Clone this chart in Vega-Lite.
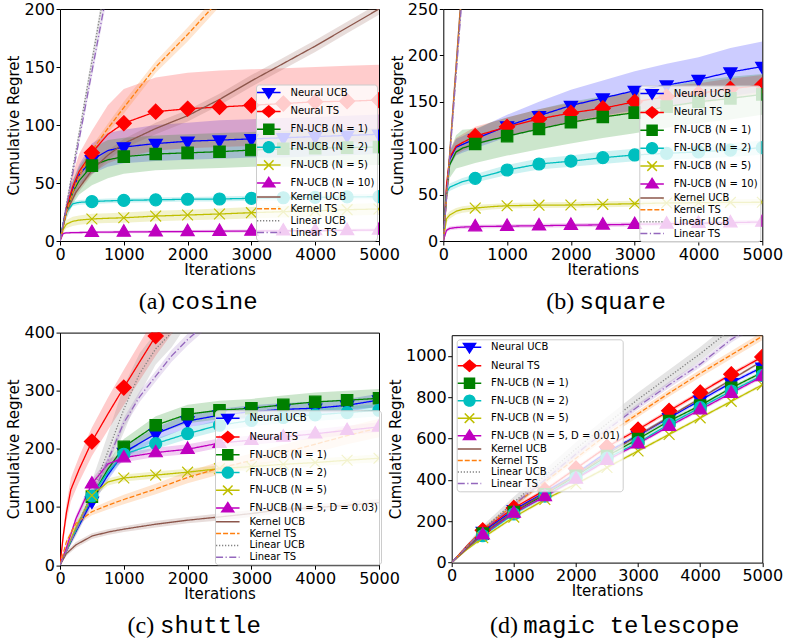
{
"$schema": "https://vega.github.io/schema/vega-lite/v6.json",
"background": "white",
"padding": {"left": 6, "top": 0, "right": 0, "bottom": 0},
"autosize": {"type": "pad"},
"config": {
  "view": {"stroke": "#000", "strokeWidth": 1},
  "axis": {"domain": false, "grid": false, "tickColor": "#000", "tickSize": 4, "tickWidth": 1, "labelFont": "DejaVu Sans", "labelFontSize": 16, "labelColor": "#000", "titleFont": "DejaVu Sans", "titleFontSize": 15, "titleFontWeight": "normal", "titleColor": "#000", "labelFlush": false, "labelOverlap": false, "labelBound": false, "format": "d"},
  "axisX": {"labelPadding": 1, "titlePadding": 0},
  "axisY": {"labelPadding": 1.5, "titlePadding": 2},
  "legend": {"columns": 1, "direction": "vertical", "fillColor": "rgba(255,255,255,0.8)", "strokeColor": "#cccccc", "cornerRadius": 3, "padding": 2, "labelFont": "DejaVu Sans", "labelFontSize": 10, "labelColor": "#000", "labelOffset": 15.6, "symbolOffset": 4.8, "symbolSize": 100, "symbolStrokeWidth": 1.5, "symbolOpacity": 1, "symbolLimit": 20, "rowPadding": 0.9}
},
"datasets": {
"a": [
{"s":"Neural UCB","x":0,"y":0,"l":0,"h":0},{"s":"Neural UCB","x":50,"y":15,"l":12,"h":18},{"s":"Neural UCB","x":100,"y":28,"l":23,"h":33},{"s":"Neural UCB","x":200,"y":45,"l":38,"h":52},{"s":"Neural UCB","x":300,"y":57,"l":48,"h":66},{"s":"Neural UCB","x":500,"y":70,"l":58,"h":84},{"s":"Neural UCB","x":750,"y":78,"l":64,"h":93},{"s":"Neural UCB","x":1000,"y":81,"l":67,"h":96},{"s":"Neural UCB","x":1500,"y":84,"l":69,"h":100},{"s":"Neural UCB","x":2000,"y":86,"l":70,"h":102},{"s":"Neural UCB","x":2500,"y":87,"l":71,"h":104},{"s":"Neural UCB","x":3000,"y":88,"l":72,"h":105},{"s":"Neural UCB","x":3500,"y":89,"l":72,"h":106},{"s":"Neural UCB","x":4000,"y":90,"l":73,"h":107},{"s":"Neural UCB","x":4500,"y":91,"l":74,"h":108},{"s":"Neural UCB","x":5000,"y":92,"l":75,"h":109},
{"s":"Neural TS","x":0,"y":0,"l":0,"h":0},{"s":"Neural TS","x":50,"y":14,"l":11,"h":17},{"s":"Neural TS","x":100,"y":28,"l":22,"h":34},{"s":"Neural TS","x":200,"y":47,"l":36,"h":58},{"s":"Neural TS","x":300,"y":60,"l":45,"h":75},{"s":"Neural TS","x":500,"y":76,"l":58,"h":95},{"s":"Neural TS","x":750,"y":92,"l":67,"h":117},{"s":"Neural TS","x":1000,"y":101.5,"l":72,"h":131},{"s":"Neural TS","x":1500,"y":111.5,"l":78,"h":141},{"s":"Neural TS","x":2000,"y":114,"l":80,"h":145},{"s":"Neural TS","x":2500,"y":115.5,"l":81,"h":147},{"s":"Neural TS","x":3000,"y":117,"l":82,"h":148},{"s":"Neural TS","x":3500,"y":118.5,"l":83,"h":149},{"s":"Neural TS","x":4000,"y":120,"l":84,"h":150},{"s":"Neural TS","x":4500,"y":120.5,"l":85,"h":151},{"s":"Neural TS","x":5000,"y":121.5,"l":86,"h":152},
{"s":"FN-UCB (N = 1)","x":0,"y":0,"l":0,"h":0},{"s":"FN-UCB (N = 1)","x":50,"y":13,"l":10,"h":16},{"s":"FN-UCB (N = 1)","x":100,"y":25,"l":19,"h":31},{"s":"FN-UCB (N = 1)","x":200,"y":42,"l":32,"h":52},{"s":"FN-UCB (N = 1)","x":300,"y":52,"l":40,"h":64},{"s":"FN-UCB (N = 1)","x":500,"y":65,"l":48,"h":80},{"s":"FN-UCB (N = 1)","x":750,"y":70,"l":54,"h":87},{"s":"FN-UCB (N = 1)","x":1000,"y":72.7,"l":58,"h":89},{"s":"FN-UCB (N = 1)","x":1500,"y":75,"l":61,"h":91},{"s":"FN-UCB (N = 1)","x":2000,"y":76,"l":62,"h":92},{"s":"FN-UCB (N = 1)","x":2500,"y":77,"l":63,"h":93},{"s":"FN-UCB (N = 1)","x":3000,"y":78.4,"l":64,"h":94},{"s":"FN-UCB (N = 1)","x":3500,"y":79.5,"l":64,"h":95},{"s":"FN-UCB (N = 1)","x":4000,"y":80,"l":64.5,"h":96},{"s":"FN-UCB (N = 1)","x":4500,"y":80.5,"l":65,"h":96.5},{"s":"FN-UCB (N = 1)","x":5000,"y":81,"l":65.5,"h":97},
{"s":"FN-UCB (N = 2)","x":0,"y":0,"l":0,"h":0},{"s":"FN-UCB (N = 2)","x":50,"y":15,"l":13,"h":17},{"s":"FN-UCB (N = 2)","x":100,"y":25,"l":23,"h":27},{"s":"FN-UCB (N = 2)","x":200,"y":32,"l":30,"h":34},{"s":"FN-UCB (N = 2)","x":300,"y":33.3,"l":31.3,"h":35.3},{"s":"FN-UCB (N = 2)","x":500,"y":34,"l":32,"h":36},{"s":"FN-UCB (N = 2)","x":750,"y":34.6,"l":32.5,"h":36.7},{"s":"FN-UCB (N = 2)","x":1000,"y":35,"l":33,"h":37},{"s":"FN-UCB (N = 2)","x":1500,"y":35.5,"l":33.5,"h":37.5},{"s":"FN-UCB (N = 2)","x":2000,"y":36,"l":34,"h":38},{"s":"FN-UCB (N = 2)","x":2500,"y":36.2,"l":34,"h":38.4},{"s":"FN-UCB (N = 2)","x":3000,"y":36.8,"l":34.6,"h":39},{"s":"FN-UCB (N = 2)","x":3500,"y":37.3,"l":35,"h":39.6},{"s":"FN-UCB (N = 2)","x":4000,"y":37.6,"l":35.3,"h":39.9},{"s":"FN-UCB (N = 2)","x":4500,"y":38,"l":35.7,"h":40.3},{"s":"FN-UCB (N = 2)","x":5000,"y":38.2,"l":35.9,"h":40.5},
{"s":"FN-UCB (N = 5)","x":0,"y":0,"l":0,"h":0},{"s":"FN-UCB (N = 5)","x":50,"y":10,"l":7,"h":13},{"s":"FN-UCB (N = 5)","x":100,"y":14.5,"l":11,"h":18},{"s":"FN-UCB (N = 5)","x":200,"y":17,"l":13,"h":21},{"s":"FN-UCB (N = 5)","x":300,"y":18,"l":14,"h":22},{"s":"FN-UCB (N = 5)","x":500,"y":19,"l":15,"h":23.5},{"s":"FN-UCB (N = 5)","x":750,"y":19.6,"l":15.5,"h":24},{"s":"FN-UCB (N = 5)","x":1000,"y":20,"l":15.8,"h":24.5},{"s":"FN-UCB (N = 5)","x":1500,"y":21.5,"l":17,"h":26},{"s":"FN-UCB (N = 5)","x":2000,"y":22.4,"l":17.8,"h":27},{"s":"FN-UCB (N = 5)","x":2500,"y":23.3,"l":18.5,"h":28},{"s":"FN-UCB (N = 5)","x":3000,"y":24.4,"l":19.5,"h":29.3},{"s":"FN-UCB (N = 5)","x":3500,"y":25.3,"l":20.3,"h":30.3},{"s":"FN-UCB (N = 5)","x":4000,"y":26,"l":21,"h":31},{"s":"FN-UCB (N = 5)","x":4500,"y":27,"l":22,"h":32},{"s":"FN-UCB (N = 5)","x":5000,"y":27.6,"l":22.5,"h":32.7},
{"s":"FN-UCB (N = 10)","x":0,"y":0,"l":0,"h":0},{"s":"FN-UCB (N = 10)","x":50,"y":6.5,"l":5.5,"h":7.5},{"s":"FN-UCB (N = 10)","x":100,"y":7,"l":6,"h":8},{"s":"FN-UCB (N = 10)","x":200,"y":7.2,"l":6.2,"h":8.2},{"s":"FN-UCB (N = 10)","x":300,"y":7.3,"l":6.3,"h":8.4},{"s":"FN-UCB (N = 10)","x":500,"y":7.5,"l":6.4,"h":8.6},{"s":"FN-UCB (N = 10)","x":750,"y":7.7,"l":6.5,"h":8.9},{"s":"FN-UCB (N = 10)","x":1000,"y":7.8,"l":6.6,"h":9},{"s":"FN-UCB (N = 10)","x":1500,"y":8,"l":6.8,"h":9.2},{"s":"FN-UCB (N = 10)","x":2000,"y":8.2,"l":7,"h":9.4},{"s":"FN-UCB (N = 10)","x":2500,"y":8.4,"l":7.2,"h":9.7},{"s":"FN-UCB (N = 10)","x":3000,"y":8.6,"l":7.3,"h":9.9},{"s":"FN-UCB (N = 10)","x":3500,"y":8.8,"l":7.5,"h":10.1},{"s":"FN-UCB (N = 10)","x":4000,"y":9,"l":7.7,"h":10.3},{"s":"FN-UCB (N = 10)","x":4500,"y":9.2,"l":7.9,"h":10.6},{"s":"FN-UCB (N = 10)","x":5000,"y":9.5,"l":8.1,"h":10.9},
{"s":"Kernel UCB","x":0,"y":0,"l":0,"h":0},{"s":"Kernel UCB","x":100,"y":25,"l":23,"h":27},{"s":"Kernel UCB","x":250,"y":42,"l":39,"h":45},{"s":"Kernel UCB","x":500,"y":61,"l":57,"h":65},{"s":"Kernel UCB","x":750,"y":74,"l":70,"h":78},{"s":"Kernel UCB","x":1000,"y":84,"l":80,"h":88},{"s":"Kernel UCB","x":1500,"y":97,"l":92,"h":102},{"s":"Kernel UCB","x":2000,"y":108,"l":103,"h":113},{"s":"Kernel UCB","x":2500,"y":122,"l":117,"h":127},{"s":"Kernel UCB","x":3000,"y":138,"l":133,"h":143},{"s":"Kernel UCB","x":3500,"y":153,"l":148,"h":158},{"s":"Kernel UCB","x":4000,"y":168,"l":163,"h":173},{"s":"Kernel UCB","x":4500,"y":184,"l":179,"h":189},{"s":"Kernel UCB","x":5000,"y":200,"l":195,"h":205},
{"s":"Kernel TS","x":0,"y":0,"l":0,"h":0},{"s":"Kernel TS","x":100,"y":25,"l":23,"h":27},{"s":"Kernel TS","x":250,"y":50,"l":47,"h":53},{"s":"Kernel TS","x":500,"y":78,"l":74,"h":82},{"s":"Kernel TS","x":750,"y":97,"l":93,"h":101},{"s":"Kernel TS","x":1000,"y":115,"l":110,"h":120},{"s":"Kernel TS","x":1500,"y":150,"l":145,"h":155},{"s":"Kernel TS","x":2000,"y":178,"l":172,"h":184},{"s":"Kernel TS","x":2500,"y":208,"l":202,"h":214},{"s":"Kernel TS","x":3000,"y":240,"l":234,"h":246},
{"s":"Linear UCB","x":0,"y":0,"l":0,"h":0},{"s":"Linear UCB","x":100,"y":31,"l":29,"h":33},{"s":"Linear UCB","x":500,"y":155,"l":150,"h":160},{"s":"Linear UCB","x":1000,"y":310,"l":302,"h":318},
{"s":"Linear TS","x":0,"y":0,"l":0,"h":0},{"s":"Linear TS","x":100,"y":29,"l":27,"h":31},{"s":"Linear TS","x":500,"y":146,"l":141,"h":151},{"s":"Linear TS","x":1000,"y":292,"l":284,"h":300}
],
"b": [
{"s":"Neural UCB","x":0,"y":0,"l":0,"h":0},{"s":"Neural UCB","x":50,"y":55,"l":50,"h":60},{"s":"Neural UCB","x":100,"y":88,"l":80,"h":96},{"s":"Neural UCB","x":200,"y":101,"l":92,"h":110},{"s":"Neural UCB","x":300,"y":104,"l":95,"h":113},{"s":"Neural UCB","x":500,"y":110,"l":100,"h":120},{"s":"Neural UCB","x":750,"y":117,"l":106,"h":128},{"s":"Neural UCB","x":1000,"y":124,"l":112,"h":136},{"s":"Neural UCB","x":1500,"y":135,"l":120,"h":150},{"s":"Neural UCB","x":2000,"y":146,"l":129,"h":163},{"s":"Neural UCB","x":2500,"y":154,"l":135,"h":173},{"s":"Neural UCB","x":3000,"y":162,"l":141,"h":183},{"s":"Neural UCB","x":3500,"y":168,"l":145,"h":191},{"s":"Neural UCB","x":4000,"y":174,"l":150,"h":198},{"s":"Neural UCB","x":4500,"y":182,"l":156,"h":208},{"s":"Neural UCB","x":5000,"y":188,"l":161,"h":215},
{"s":"Neural TS","x":0,"y":0,"l":0,"h":0},{"s":"Neural TS","x":50,"y":60,"l":55,"h":65},{"s":"Neural TS","x":100,"y":90,"l":82,"h":98},{"s":"Neural TS","x":200,"y":102,"l":93,"h":111},{"s":"Neural TS","x":300,"y":106,"l":97,"h":115},{"s":"Neural TS","x":500,"y":113,"l":103,"h":123},{"s":"Neural TS","x":750,"y":118,"l":108,"h":128},{"s":"Neural TS","x":1000,"y":123,"l":113,"h":133},{"s":"Neural TS","x":1500,"y":131.5,"l":121,"h":142},{"s":"Neural TS","x":2000,"y":138,"l":127,"h":149},{"s":"Neural TS","x":2500,"y":143,"l":132,"h":154},{"s":"Neural TS","x":3000,"y":150,"l":139,"h":161},{"s":"Neural TS","x":3500,"y":155.5,"l":144,"h":167},{"s":"Neural TS","x":4000,"y":159,"l":148,"h":170},{"s":"Neural TS","x":4500,"y":164,"l":153,"h":175},{"s":"Neural TS","x":5000,"y":168,"l":157,"h":179},
{"s":"FN-UCB (N = 1)","x":0,"y":0,"l":0,"h":0},{"s":"FN-UCB (N = 1)","x":50,"y":50,"l":42,"h":58},{"s":"FN-UCB (N = 1)","x":100,"y":82,"l":68,"h":96},{"s":"FN-UCB (N = 1)","x":200,"y":96,"l":78,"h":114},{"s":"FN-UCB (N = 1)","x":300,"y":100,"l":80,"h":120},{"s":"FN-UCB (N = 1)","x":500,"y":104.5,"l":84,"h":121},{"s":"FN-UCB (N = 1)","x":750,"y":109,"l":88,"h":128},{"s":"FN-UCB (N = 1)","x":1000,"y":113,"l":92,"h":133},{"s":"FN-UCB (N = 1)","x":1500,"y":120.7,"l":99,"h":142},{"s":"FN-UCB (N = 1)","x":2000,"y":128,"l":105,"h":150},{"s":"FN-UCB (N = 1)","x":2500,"y":133.6,"l":111,"h":156},{"s":"FN-UCB (N = 1)","x":3000,"y":138.3,"l":116,"h":161},{"s":"FN-UCB (N = 1)","x":3500,"y":144.8,"l":122,"h":167},{"s":"FN-UCB (N = 1)","x":4000,"y":150,"l":127,"h":173},{"s":"FN-UCB (N = 1)","x":4500,"y":153.7,"l":131,"h":177},{"s":"FN-UCB (N = 1)","x":5000,"y":158,"l":136,"h":180},
{"s":"FN-UCB (N = 2)","x":0,"y":0,"l":0,"h":0},{"s":"FN-UCB (N = 2)","x":50,"y":52,"l":48,"h":56},{"s":"FN-UCB (N = 2)","x":100,"y":58,"l":54,"h":62},{"s":"FN-UCB (N = 2)","x":200,"y":61,"l":57,"h":65},{"s":"FN-UCB (N = 2)","x":300,"y":64,"l":60,"h":68},{"s":"FN-UCB (N = 2)","x":500,"y":67.5,"l":63,"h":72},{"s":"FN-UCB (N = 2)","x":750,"y":72,"l":67,"h":77},{"s":"FN-UCB (N = 2)","x":1000,"y":76.5,"l":71,"h":82},{"s":"FN-UCB (N = 2)","x":1500,"y":83,"l":77,"h":89},{"s":"FN-UCB (N = 2)","x":2000,"y":86,"l":80,"h":92},{"s":"FN-UCB (N = 2)","x":2500,"y":89.8,"l":83,"h":96.5},{"s":"FN-UCB (N = 2)","x":3000,"y":92.7,"l":86,"h":99.5},{"s":"FN-UCB (N = 2)","x":3500,"y":94.5,"l":87.5,"h":101.5},{"s":"FN-UCB (N = 2)","x":4000,"y":96,"l":89,"h":103},{"s":"FN-UCB (N = 2)","x":4500,"y":98,"l":90.5,"h":105.5},{"s":"FN-UCB (N = 2)","x":5000,"y":100.6,"l":93,"h":108},
{"s":"FN-UCB (N = 5)","x":0,"y":0,"l":0,"h":0},{"s":"FN-UCB (N = 5)","x":50,"y":24,"l":20,"h":28},{"s":"FN-UCB (N = 5)","x":100,"y":28,"l":24,"h":32},{"s":"FN-UCB (N = 5)","x":200,"y":32,"l":28.5,"h":35.5},{"s":"FN-UCB (N = 5)","x":300,"y":34,"l":30.5,"h":37.5},{"s":"FN-UCB (N = 5)","x":500,"y":35.5,"l":32,"h":39},{"s":"FN-UCB (N = 5)","x":750,"y":37,"l":34,"h":40},{"s":"FN-UCB (N = 5)","x":1000,"y":38,"l":35,"h":41},{"s":"FN-UCB (N = 5)","x":1500,"y":38.6,"l":35.5,"h":41.7},{"s":"FN-UCB (N = 5)","x":2000,"y":38.8,"l":35.7,"h":42},{"s":"FN-UCB (N = 5)","x":2500,"y":39.5,"l":36.3,"h":42.7},{"s":"FN-UCB (N = 5)","x":3000,"y":40.2,"l":37,"h":43.4},{"s":"FN-UCB (N = 5)","x":3500,"y":41,"l":37.7,"h":44.3},{"s":"FN-UCB (N = 5)","x":4000,"y":41.3,"l":38,"h":44.6},{"s":"FN-UCB (N = 5)","x":4500,"y":41.6,"l":38.3,"h":45},{"s":"FN-UCB (N = 5)","x":5000,"y":41.8,"l":38.5,"h":45.2},
{"s":"FN-UCB (N = 10)","x":0,"y":0,"l":0,"h":0},{"s":"FN-UCB (N = 10)","x":50,"y":11.5,"l":9.5,"h":13.5},{"s":"FN-UCB (N = 10)","x":100,"y":13.5,"l":11.5,"h":15.5},{"s":"FN-UCB (N = 10)","x":200,"y":14.5,"l":12.5,"h":16.5},{"s":"FN-UCB (N = 10)","x":300,"y":15,"l":13,"h":17},{"s":"FN-UCB (N = 10)","x":500,"y":15.5,"l":13.5,"h":17.5},{"s":"FN-UCB (N = 10)","x":750,"y":15.8,"l":13.8,"h":17.8},{"s":"FN-UCB (N = 10)","x":1000,"y":16,"l":14,"h":18},{"s":"FN-UCB (N = 10)","x":1500,"y":16.5,"l":14.4,"h":18.6},{"s":"FN-UCB (N = 10)","x":2000,"y":17,"l":14.8,"h":19.2},{"s":"FN-UCB (N = 10)","x":2500,"y":17.4,"l":15.2,"h":19.6},{"s":"FN-UCB (N = 10)","x":3000,"y":18,"l":15.7,"h":20.3},{"s":"FN-UCB (N = 10)","x":3500,"y":18.5,"l":16.1,"h":20.9},{"s":"FN-UCB (N = 10)","x":4000,"y":19.2,"l":16.7,"h":21.7},{"s":"FN-UCB (N = 10)","x":4500,"y":19.8,"l":17.3,"h":22.3},{"s":"FN-UCB (N = 10)","x":5000,"y":20.5,"l":18,"h":23},
{"s":"Kernel UCB","x":0,"y":0,"l":0,"h":0},{"s":"Kernel UCB","x":500,"y":472,"l":460,"h":484},
{"s":"Kernel TS","x":0,"y":0,"l":0,"h":0},{"s":"Kernel TS","x":500,"y":463,"l":455,"h":471},
{"s":"Linear UCB","x":0,"y":0,"l":0,"h":0},{"s":"Linear UCB","x":500,"y":455,"l":447,"h":463},
{"s":"Linear TS","x":0,"y":0,"l":0,"h":0},{"s":"Linear TS","x":500,"y":446,"l":438,"h":454}
],
"c": [
{"s":"Neural UCB","x":0,"y":0,"l":0,"h":0},{"s":"Neural UCB","x":100,"y":25,"l":22,"h":28},{"s":"Neural UCB","x":250,"y":58,"l":53,"h":63},{"s":"Neural UCB","x":500,"y":110,"l":102,"h":118},{"s":"Neural UCB","x":750,"y":155,"l":146,"h":164},{"s":"Neural UCB","x":1000,"y":193.7,"l":184,"h":204},{"s":"Neural UCB","x":1500,"y":226,"l":215,"h":237},{"s":"Neural UCB","x":2000,"y":248,"l":237,"h":259},{"s":"Neural UCB","x":2500,"y":258,"l":247,"h":269},{"s":"Neural UCB","x":3000,"y":264,"l":253,"h":275},{"s":"Neural UCB","x":3500,"y":268,"l":257,"h":279},{"s":"Neural UCB","x":4000,"y":270,"l":259,"h":281},{"s":"Neural UCB","x":4500,"y":275,"l":264,"h":286},{"s":"Neural UCB","x":5000,"y":284,"l":273,"h":295},
{"s":"Neural TS","x":0,"y":0,"l":0,"h":0},{"s":"Neural TS","x":50,"y":50,"l":40,"h":60},{"s":"Neural TS","x":100,"y":90,"l":75,"h":105},{"s":"Neural TS","x":170,"y":130,"l":110,"h":150},{"s":"Neural TS","x":300,"y":165,"l":143,"h":187},{"s":"Neural TS","x":500,"y":212.6,"l":188,"h":237},{"s":"Neural TS","x":750,"y":260,"l":232,"h":288},{"s":"Neural TS","x":1000,"y":305.5,"l":275,"h":336},{"s":"Neural TS","x":1250,"y":350,"l":318,"h":382},{"s":"Neural TS","x":1500,"y":394,"l":360,"h":428},{"s":"Neural TS","x":2000,"y":470,"l":435,"h":505},
{"s":"FN-UCB (N = 1)","x":0,"y":0,"l":0,"h":0},{"s":"FN-UCB (N = 1)","x":100,"y":25,"l":22,"h":28},{"s":"FN-UCB (N = 1)","x":250,"y":60,"l":55,"h":65},{"s":"FN-UCB (N = 1)","x":500,"y":118,"l":110,"h":126},{"s":"FN-UCB (N = 1)","x":750,"y":165,"l":154,"h":176},{"s":"FN-UCB (N = 1)","x":1000,"y":203.5,"l":190,"h":217},{"s":"FN-UCB (N = 1)","x":1500,"y":240.7,"l":225,"h":256},{"s":"FN-UCB (N = 1)","x":2000,"y":259.6,"l":244,"h":276},{"s":"FN-UCB (N = 1)","x":2500,"y":266.5,"l":251,"h":283},{"s":"FN-UCB (N = 1)","x":3000,"y":270,"l":254,"h":286},{"s":"FN-UCB (N = 1)","x":3500,"y":275.7,"l":260,"h":292},{"s":"FN-UCB (N = 1)","x":4000,"y":280.8,"l":265,"h":297},{"s":"FN-UCB (N = 1)","x":4500,"y":283.7,"l":268,"h":300},{"s":"FN-UCB (N = 1)","x":5000,"y":287,"l":271,"h":303},
{"s":"FN-UCB (N = 2)","x":0,"y":0,"l":0,"h":0},{"s":"FN-UCB (N = 2)","x":100,"y":25,"l":22,"h":28},{"s":"FN-UCB (N = 2)","x":250,"y":60,"l":56,"h":64},{"s":"FN-UCB (N = 2)","x":500,"y":119,"l":112,"h":126},{"s":"FN-UCB (N = 2)","x":750,"y":160,"l":152,"h":168},{"s":"FN-UCB (N = 2)","x":1000,"y":190.8,"l":182,"h":200},{"s":"FN-UCB (N = 2)","x":1500,"y":209,"l":200,"h":218},{"s":"FN-UCB (N = 2)","x":2000,"y":226.4,"l":217,"h":236},{"s":"FN-UCB (N = 2)","x":2500,"y":240.7,"l":231,"h":250},{"s":"FN-UCB (N = 2)","x":3000,"y":249,"l":239,"h":259},{"s":"FN-UCB (N = 2)","x":3500,"y":254,"l":244,"h":264},{"s":"FN-UCB (N = 2)","x":4000,"y":258.5,"l":248,"h":269},{"s":"FN-UCB (N = 2)","x":4500,"y":262.5,"l":252,"h":273},{"s":"FN-UCB (N = 2)","x":5000,"y":266.5,"l":256,"h":277},
{"s":"FN-UCB (N = 5)","x":0,"y":0,"l":0,"h":0},{"s":"FN-UCB (N = 5)","x":100,"y":27,"l":24,"h":30},{"s":"FN-UCB (N = 5)","x":250,"y":65,"l":60,"h":70},{"s":"FN-UCB (N = 5)","x":500,"y":120,"l":114,"h":126},{"s":"FN-UCB (N = 5)","x":750,"y":143,"l":137,"h":149},{"s":"FN-UCB (N = 5)","x":1000,"y":150,"l":144,"h":156},{"s":"FN-UCB (N = 5)","x":1500,"y":155,"l":149,"h":161},{"s":"FN-UCB (N = 5)","x":2000,"y":160,"l":154,"h":166},{"s":"FN-UCB (N = 5)","x":2500,"y":166,"l":160,"h":172},{"s":"FN-UCB (N = 5)","x":3000,"y":169.6,"l":163,"h":176},{"s":"FN-UCB (N = 5)","x":3500,"y":173.5,"l":167,"h":180},{"s":"FN-UCB (N = 5)","x":4000,"y":176.5,"l":170,"h":183},{"s":"FN-UCB (N = 5)","x":4500,"y":180.5,"l":174,"h":187},{"s":"FN-UCB (N = 5)","x":5000,"y":184,"l":177,"h":191},
{"s":"FN-UCB (N = 5, D = 0.03)","x":0,"y":0,"l":0,"h":0},{"s":"FN-UCB (N = 5, D = 0.03)","x":100,"y":30,"l":27,"h":33},{"s":"FN-UCB (N = 5, D = 0.03)","x":250,"y":80,"l":74,"h":86},{"s":"FN-UCB (N = 5, D = 0.03)","x":500,"y":140,"l":132,"h":148},{"s":"FN-UCB (N = 5, D = 0.03)","x":750,"y":174,"l":166,"h":182},{"s":"FN-UCB (N = 5, D = 0.03)","x":1000,"y":185,"l":177,"h":193},{"s":"FN-UCB (N = 5, D = 0.03)","x":1500,"y":193.7,"l":186,"h":202},{"s":"FN-UCB (N = 5, D = 0.03)","x":2000,"y":199.4,"l":191,"h":208},{"s":"FN-UCB (N = 5, D = 0.03)","x":2500,"y":210,"l":202,"h":218},{"s":"FN-UCB (N = 5, D = 0.03)","x":3000,"y":215,"l":207,"h":223},{"s":"FN-UCB (N = 5, D = 0.03)","x":3500,"y":220.6,"l":212,"h":229},{"s":"FN-UCB (N = 5, D = 0.03)","x":4000,"y":226,"l":218,"h":234},{"s":"FN-UCB (N = 5, D = 0.03)","x":4500,"y":232,"l":224,"h":240},{"s":"FN-UCB (N = 5, D = 0.03)","x":5000,"y":237.8,"l":229,"h":246},
{"s":"Kernel UCB","x":0,"y":0,"l":0,"h":0},{"s":"Kernel UCB","x":100,"y":20,"l":16,"h":24},{"s":"Kernel UCB","x":250,"y":35,"l":30,"h":40},{"s":"Kernel UCB","x":500,"y":50,"l":45,"h":55},{"s":"Kernel UCB","x":750,"y":57,"l":52,"h":62},{"s":"Kernel UCB","x":1000,"y":62,"l":57,"h":67},{"s":"Kernel UCB","x":1500,"y":70.5,"l":65,"h":76},{"s":"Kernel UCB","x":2000,"y":77.4,"l":72,"h":83},{"s":"Kernel UCB","x":2500,"y":83,"l":77,"h":89},{"s":"Kernel UCB","x":3000,"y":88.8,"l":83,"h":95},{"s":"Kernel UCB","x":3500,"y":96,"l":90,"h":102},{"s":"Kernel UCB","x":4000,"y":99,"l":93,"h":105},{"s":"Kernel UCB","x":4500,"y":103,"l":97,"h":109},{"s":"Kernel UCB","x":5000,"y":107.7,"l":101,"h":114},
{"s":"Kernel TS","x":0,"y":0,"l":0,"h":0},{"s":"Kernel TS","x":100,"y":40,"l":36,"h":44},{"s":"Kernel TS","x":250,"y":72,"l":67,"h":77},{"s":"Kernel TS","x":500,"y":92,"l":86,"h":98},{"s":"Kernel TS","x":750,"y":103,"l":96,"h":110},{"s":"Kernel TS","x":1000,"y":113,"l":105,"h":121},{"s":"Kernel TS","x":1500,"y":131,"l":122,"h":140},{"s":"Kernel TS","x":2000,"y":151,"l":141,"h":161},{"s":"Kernel TS","x":2500,"y":167,"l":156,"h":178},{"s":"Kernel TS","x":3000,"y":180,"l":168,"h":192},{"s":"Kernel TS","x":3500,"y":194,"l":181,"h":207},{"s":"Kernel TS","x":4000,"y":208,"l":194,"h":222},{"s":"Kernel TS","x":4500,"y":223,"l":208,"h":238},{"s":"Kernel TS","x":5000,"y":236,"l":220,"h":252},
{"s":"Linear UCB","x":0,"y":0,"l":0,"h":0},{"s":"Linear UCB","x":250,"y":62,"l":50,"h":74},{"s":"Linear UCB","x":500,"y":125,"l":105,"h":145},{"s":"Linear UCB","x":750,"y":195,"l":165,"h":225},{"s":"Linear UCB","x":1000,"y":268,"l":228,"h":308},{"s":"Linear UCB","x":1250,"y":330,"l":295,"h":365},{"s":"Linear UCB","x":1500,"y":372,"l":345,"h":400},{"s":"Linear UCB","x":1750,"y":400,"l":375,"h":425},{"s":"Linear UCB","x":2000,"y":440,"l":415,"h":465},
{"s":"Linear TS","x":0,"y":0,"l":0,"h":0},{"s":"Linear TS","x":250,"y":60,"l":56,"h":64},{"s":"Linear TS","x":500,"y":118,"l":112,"h":124},{"s":"Linear TS","x":750,"y":180,"l":173,"h":187},{"s":"Linear TS","x":1000,"y":245,"l":237,"h":253},{"s":"Linear TS","x":1250,"y":290,"l":281,"h":299},{"s":"Linear TS","x":1500,"y":325,"l":316,"h":334},{"s":"Linear TS","x":1750,"y":360,"l":350,"h":370},{"s":"Linear TS","x":2000,"y":388,"l":378,"h":398},{"s":"Linear TS","x":2250,"y":412,"l":402,"h":422},{"s":"Linear TS","x":2500,"y":440,"l":430,"h":450}
],
"d": [
{"s":"Neural UCB","x":0,"y":0,"l":0,"h":0},{"s":"Neural UCB","x":250,"y":80,"l":72,"h":88},{"s":"Neural UCB","x":500,"y":150,"l":140,"h":160},{"s":"Neural UCB","x":1000,"y":255,"l":245,"h":265},{"s":"Neural UCB","x":1500,"y":340,"l":330,"h":350},{"s":"Neural UCB","x":2000,"y":430,"l":420,"h":440},{"s":"Neural UCB","x":2500,"y":535,"l":525,"h":545},{"s":"Neural UCB","x":3000,"y":615,"l":605,"h":625},{"s":"Neural UCB","x":3500,"y":700,"l":690,"h":710},{"s":"Neural UCB","x":4000,"y":785,"l":775,"h":795},{"s":"Neural UCB","x":4500,"y":870,"l":860,"h":880},{"s":"Neural UCB","x":5000,"y":945,"l":935,"h":955},
{"s":"Neural TS","x":0,"y":0,"l":0,"h":0},{"s":"Neural TS","x":250,"y":82,"l":74,"h":90},{"s":"Neural TS","x":500,"y":156,"l":146,"h":166},{"s":"Neural TS","x":1000,"y":264.5,"l":254,"h":275},{"s":"Neural TS","x":1500,"y":350,"l":340,"h":360},{"s":"Neural TS","x":2000,"y":455,"l":445,"h":465},{"s":"Neural TS","x":2500,"y":560,"l":550,"h":570},{"s":"Neural TS","x":3000,"y":643.5,"l":633,"h":654},{"s":"Neural TS","x":3500,"y":734,"l":724,"h":744},{"s":"Neural TS","x":4000,"y":822.6,"l":812,"h":833},{"s":"Neural TS","x":4500,"y":911,"l":901,"h":921},{"s":"Neural TS","x":5000,"y":995,"l":985,"h":1005},
{"s":"FN-UCB (N = 1)","x":0,"y":0,"l":0,"h":0},{"s":"FN-UCB (N = 1)","x":250,"y":75,"l":68,"h":82},{"s":"FN-UCB (N = 1)","x":500,"y":140,"l":131,"h":149},{"s":"FN-UCB (N = 1)","x":1000,"y":245,"l":236,"h":254},{"s":"FN-UCB (N = 1)","x":1500,"y":330,"l":321,"h":339},{"s":"FN-UCB (N = 1)","x":2000,"y":420,"l":411,"h":429},{"s":"FN-UCB (N = 1)","x":2500,"y":515,"l":506,"h":524},{"s":"FN-UCB (N = 1)","x":3000,"y":598,"l":589,"h":607},{"s":"FN-UCB (N = 1)","x":3500,"y":685,"l":676,"h":694},{"s":"FN-UCB (N = 1)","x":4000,"y":760,"l":751,"h":769},{"s":"FN-UCB (N = 1)","x":4500,"y":845,"l":836,"h":854},{"s":"FN-UCB (N = 1)","x":5000,"y":920,"l":911,"h":929},
{"s":"FN-UCB (N = 2)","x":0,"y":0,"l":0,"h":0},{"s":"FN-UCB (N = 2)","x":250,"y":70,"l":63,"h":77},{"s":"FN-UCB (N = 2)","x":500,"y":130,"l":121,"h":139},{"s":"FN-UCB (N = 2)","x":1000,"y":235,"l":226,"h":244},{"s":"FN-UCB (N = 2)","x":1500,"y":322,"l":313,"h":331},{"s":"FN-UCB (N = 2)","x":2000,"y":410,"l":401,"h":419},{"s":"FN-UCB (N = 2)","x":2500,"y":505,"l":496,"h":514},{"s":"FN-UCB (N = 2)","x":3000,"y":580,"l":571,"h":589},{"s":"FN-UCB (N = 2)","x":3500,"y":670,"l":661,"h":679},{"s":"FN-UCB (N = 2)","x":4000,"y":750,"l":741,"h":759},{"s":"FN-UCB (N = 2)","x":4500,"y":830,"l":821,"h":839},{"s":"FN-UCB (N = 2)","x":5000,"y":905,"l":896,"h":914},
{"s":"FN-UCB (N = 5)","x":0,"y":0,"l":0,"h":0},{"s":"FN-UCB (N = 5)","x":250,"y":65,"l":59,"h":71},{"s":"FN-UCB (N = 5)","x":500,"y":120,"l":112,"h":128},{"s":"FN-UCB (N = 5)","x":1000,"y":220,"l":212,"h":228},{"s":"FN-UCB (N = 5)","x":1500,"y":305,"l":297,"h":313},{"s":"FN-UCB (N = 5)","x":2000,"y":380,"l":372,"h":388},{"s":"FN-UCB (N = 5)","x":2500,"y":460,"l":452,"h":468},{"s":"FN-UCB (N = 5)","x":3000,"y":540,"l":532,"h":548},{"s":"FN-UCB (N = 5)","x":3500,"y":620,"l":612,"h":628},{"s":"FN-UCB (N = 5)","x":4000,"y":700,"l":692,"h":708},{"s":"FN-UCB (N = 5)","x":4500,"y":780,"l":772,"h":788},{"s":"FN-UCB (N = 5)","x":5000,"y":860,"l":852,"h":868},
{"s":"FN-UCB (N = 5, D = 0.01)","x":0,"y":0,"l":0,"h":0},{"s":"FN-UCB (N = 5, D = 0.01)","x":250,"y":72,"l":65,"h":79},{"s":"FN-UCB (N = 5, D = 0.01)","x":500,"y":135,"l":126,"h":144},{"s":"FN-UCB (N = 5, D = 0.01)","x":1000,"y":240,"l":231,"h":249},{"s":"FN-UCB (N = 5, D = 0.01)","x":1500,"y":320,"l":311,"h":329},{"s":"FN-UCB (N = 5, D = 0.01)","x":2000,"y":405,"l":396,"h":414},{"s":"FN-UCB (N = 5, D = 0.01)","x":2500,"y":495,"l":486,"h":504},{"s":"FN-UCB (N = 5, D = 0.01)","x":3000,"y":575,"l":566,"h":584},{"s":"FN-UCB (N = 5, D = 0.01)","x":3500,"y":660,"l":651,"h":669},{"s":"FN-UCB (N = 5, D = 0.01)","x":4000,"y":740,"l":731,"h":749},{"s":"FN-UCB (N = 5, D = 0.01)","x":4500,"y":820,"l":811,"h":829},{"s":"FN-UCB (N = 5, D = 0.01)","x":5000,"y":900,"l":891,"h":909},
{"s":"Kernel UCB","x":0,"y":0,"l":0,"h":0},{"s":"Kernel UCB","x":500,"y":140,"l":132,"h":148},{"s":"Kernel UCB","x":1000,"y":248,"l":240,"h":256},{"s":"Kernel UCB","x":1500,"y":335,"l":327,"h":343},{"s":"Kernel UCB","x":2000,"y":425,"l":417,"h":433},{"s":"Kernel UCB","x":2500,"y":525,"l":517,"h":533},{"s":"Kernel UCB","x":3000,"y":615,"l":607,"h":623},{"s":"Kernel UCB","x":3500,"y":705,"l":697,"h":713},{"s":"Kernel UCB","x":4000,"y":795,"l":787,"h":803},{"s":"Kernel UCB","x":4500,"y":885,"l":877,"h":893},{"s":"Kernel UCB","x":5000,"y":975,"l":967,"h":983},
{"s":"Kernel TS","x":0,"y":0,"l":0,"h":0},{"s":"Kernel TS","x":500,"y":160,"l":150,"h":170},{"s":"Kernel TS","x":1000,"y":280,"l":268,"h":292},{"s":"Kernel TS","x":1500,"y":390,"l":377,"h":403},{"s":"Kernel TS","x":2000,"y":505,"l":491,"h":519},{"s":"Kernel TS","x":2500,"y":620,"l":605,"h":635},{"s":"Kernel TS","x":3000,"y":720,"l":704,"h":736},{"s":"Kernel TS","x":3500,"y":820,"l":803,"h":837},{"s":"Kernel TS","x":4000,"y":915,"l":897,"h":933},{"s":"Kernel TS","x":4500,"y":1005,"l":986,"h":1024},{"s":"Kernel TS","x":5000,"y":1095,"l":1075,"h":1115},
{"s":"Linear UCB","x":0,"y":0,"l":0,"h":0},{"s":"Linear UCB","x":500,"y":162,"l":145,"h":179},{"s":"Linear UCB","x":1000,"y":292,"l":265,"h":319},{"s":"Linear UCB","x":1500,"y":420,"l":390,"h":450},{"s":"Linear UCB","x":2000,"y":550,"l":518,"h":582},{"s":"Linear UCB","x":2500,"y":672,"l":640,"h":704},{"s":"Linear UCB","x":3000,"y":790,"l":757,"h":823},{"s":"Linear UCB","x":3500,"y":900,"l":867,"h":933},{"s":"Linear UCB","x":4000,"y":1010,"l":977,"h":1043},{"s":"Linear UCB","x":4500,"y":1130,"l":1097,"h":1163},{"s":"Linear UCB","x":5000,"y":1240,"l":1207,"h":1273},
{"s":"Linear TS","x":0,"y":0,"l":0,"h":0},{"s":"Linear TS","x":500,"y":155,"l":145,"h":165},{"s":"Linear TS","x":1000,"y":280,"l":268,"h":292},{"s":"Linear TS","x":1500,"y":400,"l":386,"h":414},{"s":"Linear TS","x":2000,"y":525,"l":510,"h":540},{"s":"Linear TS","x":2500,"y":642,"l":627,"h":657},{"s":"Linear TS","x":3000,"y":755,"l":740,"h":770},{"s":"Linear TS","x":3500,"y":860,"l":845,"h":875},{"s":"Linear TS","x":4000,"y":960,"l":945,"h":975},{"s":"Linear TS","x":4500,"y":1080,"l":1065,"h":1095},{"s":"Linear TS","x":5000,"y":1170,"l":1155,"h":1185}
]
},
"spacing": 8.4,
"resolve": {"scale": {"color": "independent", "fill": "independent", "stroke": "independent", "strokeDash": "independent", "shape": "independent"}},
"vconcat": [
{"hconcat": [
{"width": 319, "height": 232, "data": {"name": "a"},
 "resolve": {"scale": {"color": "independent", "fill": "independent", "stroke": "independent", "strokeDash": "independent", "shape": "independent"}, "axis": {"x": "independent"}},
 "layer": [
  {"mark": {"type": "area", "opacity": 0.2, "clip": true},
   "encoding": {
    "x": {"field": "x", "type": "quantitative", "scale": {"domain": [0, 5000], "nice": false}, "axis": {"values": [0,1000,2000,3000,4000,5000], "orient": "bottom"}, "title": "Iterations"},
    "y": {"field": "l", "type": "quantitative", "stack": null, "scale": {"domain": [0, 200], "nice": false}, "axis": {"values": [0,50,100,150,200]}, "title": "Cumulative Regret"},
    "y2": {"field": "h"},
    "fill": {"field": "s", "type": "nominal", "scale": {"domain": ["Linear TS","Linear UCB","Kernel TS","Kernel UCB","FN-UCB (N = 10)","FN-UCB (N = 5)","FN-UCB (N = 2)","FN-UCB (N = 1)","Neural TS","Neural UCB"], "range": ["#9467bd","#7f7f7f","#ff7f0e","#8c564b","#bf00bf","#bfbf00","#00bfbf","#008000","#ff0000","#0000ff"]}, "legend": null}
   }},
  {"mark": {"type": "line", "strokeWidth": 1.3, "clip": true},
   "encoding": {
    "x": {"field": "x", "type": "quantitative", "scale": {"domain": [0, 5000], "nice": false}, "axis": null},
    "y": {"field": "y", "type": "quantitative", "scale": {"domain": [0, 200], "nice": false}, "axis": {"values": [0,50,100,150,200]}, "title": "Cumulative Regret"},
    "stroke": {"field": "s", "type": "nominal", "scale": {"domain": ["Linear TS","Linear UCB","Kernel TS","Kernel UCB","FN-UCB (N = 10)","FN-UCB (N = 5)","FN-UCB (N = 2)","FN-UCB (N = 1)","Neural TS","Neural UCB"], "range": ["#9467bd","#7f7f7f","#ff7f0e","#8c564b","#bf00bf","#bfbf00","#00bfbf","#008000","#ff0000","#0000ff"]}, "legend": null},
    "strokeDash": {"field": "s", "type": "nominal", "scale": {"domain": ["Linear TS","Linear UCB","Kernel TS","Kernel UCB","FN-UCB (N = 10)","FN-UCB (N = 5)","FN-UCB (N = 2)","FN-UCB (N = 1)","Neural TS","Neural UCB"], "range": [[7,2.5,1.2,2.5],[1.2,1.8],[5,2],[1,0],[1,0],[1,0],[1,0],[1,0],[1,0],[1,0]]}, "legend": null}
   }},
  {"transform": [{"filter": "datum.x > 0 && datum.x % 500 == 0 && indexof(['Kernel UCB','Kernel TS','Linear UCB','Linear TS'], datum.s) < 0"}],
   "mark": {"type": "point", "filled": true, "size": 144, "opacity": 1, "strokeWidth": 1.2, "clip": true},
   "encoding": {
    "x": {"field": "x", "type": "quantitative", "scale": {"domain": [0, 5000], "nice": false}, "axis": {"orient": "bottom", "domain": false, "ticks": false, "labels": false, "grid": false, "title": "cosine", "titleFont": "Liberation Mono", "titleFontSize": 24, "titleX": 153.9, "titleY": 67.7, "titleAlign": "center", "titleBaseline": "alphabetic", "titleAngle": 0}},
    "y": {"field": "y", "type": "quantitative", "scale": {"domain": [0, 200], "nice": false}, "axis": {"values": [0,50,100,150,200]}, "title": "Cumulative Regret"},
    "color": {"field": "s", "type": "nominal", "scale": {"domain": ["Linear TS","Linear UCB","Kernel TS","Kernel UCB","FN-UCB (N = 10)","FN-UCB (N = 5)","FN-UCB (N = 2)","FN-UCB (N = 1)","Neural TS","Neural UCB"], "range": ["#9467bd","#7f7f7f","#ff7f0e","#8c564b","#bf00bf","#bfbf00","#00bfbf","#008000","#ff0000","#0000ff"]}, "legend": null},
    "stroke": {"field": "s", "type": "nominal", "scale": {"domain": ["Linear TS","Linear UCB","Kernel TS","Kernel UCB","FN-UCB (N = 10)","FN-UCB (N = 5)","FN-UCB (N = 2)","FN-UCB (N = 1)","Neural TS","Neural UCB"], "range": ["#9467bd","#7f7f7f","#ff7f0e","#8c564b","#bf00bf","#bfbf00","#00bfbf","#008000","#ff0000","#0000ff"]}, "legend": null},
    "shape": {"field": "s", "type": "nominal", "scale": {"domain": ["Linear TS","Linear UCB","Kernel TS","Kernel UCB","FN-UCB (N = 10)","FN-UCB (N = 5)","FN-UCB (N = 2)","FN-UCB (N = 1)","Neural TS","Neural UCB"], "range": ["circle","circle","circle","circle","M-1.1,0.7L1.1,0.7L0,-1.2Z","M-0.9,-0.9L0.9,0.9M-0.9,0.9L0.9,-0.9","circle","M-0.95,-0.95L0.95,-0.95L0.95,0.95L-0.95,0.95Z","M0,-1.25L1.25,0L0,1.25L-1.25,0Z","M-1.1,-0.7L1.1,-0.7L0,1.2Z"]}, "legend": null}
   }},
  {"transform": [{"filter": "false"}],
   "mark": {"type": "point", "filled": true, "opacity": 1},
   "encoding": {
    "x": {"field": "x", "type": "quantitative", "scale": {"domain": [0, 5000], "nice": false}, "axis": {"orient": "bottom", "domain": false, "ticks": false, "labels": false, "grid": false, "title": "(a)", "titleFont": "Liberation Serif", "titleFontSize": 24, "titleX": 91.5, "titleY": 67.7, "titleAlign": "center", "titleBaseline": "alphabetic", "titleAngle": 0}},
    "y": {"field": "y", "type": "quantitative", "scale": {"domain": [0, 200], "nice": false}, "axis": {"values": [0,50,100,150,200]}, "title": "Cumulative Regret"},
    "color": {"field": "s", "type": "nominal", "scale": {"domain": ["Neural UCB","Neural TS","FN-UCB (N = 1)","FN-UCB (N = 2)","FN-UCB (N = 5)","FN-UCB (N = 10)","Kernel UCB","Kernel TS","Linear UCB","Linear TS"], "range": ["#0000ff","#ff0000","#008000","#00bfbf","#bfbf00","#bf00bf","#8c564b","#ff7f0e","#7f7f7f","#9467bd"]}, "legend": {"orient": "none", "legendX": 196, "legendY": 75.5, "rowPadding": 0.9, "title": null}},
    "stroke": {"field": "s", "type": "nominal", "scale": {"domain": ["Neural UCB","Neural TS","FN-UCB (N = 1)","FN-UCB (N = 2)","FN-UCB (N = 5)","FN-UCB (N = 10)","Kernel UCB","Kernel TS","Linear UCB","Linear TS"], "range": ["#0000ff","#ff0000","#008000","#00bfbf","#bfbf00","#bf00bf","#8c564b","#ff7f0e","#7f7f7f","#9467bd"]}, "legend": {"orient": "none", "legendX": 196, "legendY": 75.5, "rowPadding": 0.9, "title": null}},
    "shape": {"field": "s", "type": "nominal", "scale": {"domain": ["Neural UCB","Neural TS","FN-UCB (N = 1)","FN-UCB (N = 2)","FN-UCB (N = 5)","FN-UCB (N = 10)","Kernel UCB","Kernel TS","Linear UCB","Linear TS"], "range": ["M-2.35,0L-0.71,0L-1.2,-0.75L1.2,-0.75L0.71,0L2.35,0L0.71,0L0,1.1L-0.71,0Z","M-2.35,0L-1.3,0L0,-1.1L1.3,0L2.35,0L1.3,0L0,1.1L-1.3,0Z","M-2.35,0L-1,0L-1,-1L1,-1L1,0L2.35,0L1,0L1,1L-1,1L-1,0Z","M-2.35,0L-1.08,0A1.08,1.08,0,0,1,1.08,0L2.35,0L1.08,0A1.08,1.08,0,0,1,-1.08,0Z","M-2.35,0L0,0L-0.95,-0.95L0.95,0.95L0,0L0.95,-0.95L-0.95,0.95L0,0L2.35,0","M-2.35,0L-0.71,0L-1.2,0.75L1.2,0.75L0.71,0L2.35,0L0.71,0L0,-1.1L-0.71,0Z","M-2.35,0L2.35,0","M-2.35,0L2.35,0","M-2.35,0L2.35,0","M-2.35,0L2.35,0"]}, "legend": {"orient": "none", "legendX": 196, "legendY": 75.5, "rowPadding": 0.9, "title": null}},
    "strokeDash": {"field": "s", "type": "nominal", "scale": {"domain": ["Neural UCB","Neural TS","FN-UCB (N = 1)","FN-UCB (N = 2)","FN-UCB (N = 5)","FN-UCB (N = 10)","Kernel UCB","Kernel TS","Linear UCB","Linear TS"], "range": [[1,0],[1,0],[1,0],[1,0],[1,0],[1,0],[1,0],[5,2],[1.2,1.8],[7,2.5,1.2,2.5]]}, "legend": {"orient": "none", "legendX": 196, "legendY": 75.5, "rowPadding": 0.9, "title": null}}
   }}
 ]},
{"width": 319, "height": 232, "data": {"name": "b"},
 "resolve": {"scale": {"color": "independent", "fill": "independent", "stroke": "independent", "strokeDash": "independent", "shape": "independent"}, "axis": {"x": "independent"}},
 "layer": [
  {"mark": {"type": "area", "opacity": 0.2, "clip": true},
   "encoding": {
    "x": {"field": "x", "type": "quantitative", "scale": {"domain": [0, 5000], "nice": false}, "axis": {"values": [0,1000,2000,3000,4000,5000], "orient": "bottom"}, "title": "Iterations"},
    "y": {"field": "l", "type": "quantitative", "stack": null, "scale": {"domain": [0, 250], "nice": false}, "axis": {"values": [0,50,100,150,200,250]}, "title": "Cumulative Regret"},
    "y2": {"field": "h"},
    "fill": {"field": "s", "type": "nominal", "scale": {"domain": ["Linear TS","Linear UCB","Kernel TS","Kernel UCB","FN-UCB (N = 10)","FN-UCB (N = 5)","FN-UCB (N = 2)","FN-UCB (N = 1)","Neural TS","Neural UCB"], "range": ["#9467bd","#7f7f7f","#ff7f0e","#8c564b","#bf00bf","#bfbf00","#00bfbf","#008000","#ff0000","#0000ff"]}, "legend": null}
   }},
  {"mark": {"type": "line", "strokeWidth": 1.3, "clip": true},
   "encoding": {
    "x": {"field": "x", "type": "quantitative", "scale": {"domain": [0, 5000], "nice": false}, "axis": null},
    "y": {"field": "y", "type": "quantitative", "scale": {"domain": [0, 250], "nice": false}, "axis": {"values": [0,50,100,150,200,250]}, "title": "Cumulative Regret"},
    "stroke": {"field": "s", "type": "nominal", "scale": {"domain": ["Linear TS","Linear UCB","Kernel TS","Kernel UCB","FN-UCB (N = 10)","FN-UCB (N = 5)","FN-UCB (N = 2)","FN-UCB (N = 1)","Neural TS","Neural UCB"], "range": ["#9467bd","#7f7f7f","#ff7f0e","#8c564b","#bf00bf","#bfbf00","#00bfbf","#008000","#ff0000","#0000ff"]}, "legend": null},
    "strokeDash": {"field": "s", "type": "nominal", "scale": {"domain": ["Linear TS","Linear UCB","Kernel TS","Kernel UCB","FN-UCB (N = 10)","FN-UCB (N = 5)","FN-UCB (N = 2)","FN-UCB (N = 1)","Neural TS","Neural UCB"], "range": [[7,2.5,1.2,2.5],[1.2,1.8],[5,2],[1,0],[1,0],[1,0],[1,0],[1,0],[1,0],[1,0]]}, "legend": null}
   }},
  {"transform": [{"filter": "datum.x > 0 && datum.x % 500 == 0 && indexof(['Kernel UCB','Kernel TS','Linear UCB','Linear TS'], datum.s) < 0"}],
   "mark": {"type": "point", "filled": true, "size": 144, "opacity": 1, "strokeWidth": 1.2, "clip": true},
   "encoding": {
    "x": {"field": "x", "type": "quantitative", "scale": {"domain": [0, 5000], "nice": false}, "axis": {"orient": "bottom", "domain": false, "ticks": false, "labels": false, "grid": false, "title": "square", "titleFont": "Liberation Mono", "titleFontSize": 24, "titleX": 178.9, "titleY": 67.7, "titleAlign": "center", "titleBaseline": "alphabetic", "titleAngle": 0}},
    "y": {"field": "y", "type": "quantitative", "scale": {"domain": [0, 250], "nice": false}, "axis": {"values": [0,50,100,150,200,250]}, "title": "Cumulative Regret"},
    "color": {"field": "s", "type": "nominal", "scale": {"domain": ["Linear TS","Linear UCB","Kernel TS","Kernel UCB","FN-UCB (N = 10)","FN-UCB (N = 5)","FN-UCB (N = 2)","FN-UCB (N = 1)","Neural TS","Neural UCB"], "range": ["#9467bd","#7f7f7f","#ff7f0e","#8c564b","#bf00bf","#bfbf00","#00bfbf","#008000","#ff0000","#0000ff"]}, "legend": null},
    "stroke": {"field": "s", "type": "nominal", "scale": {"domain": ["Linear TS","Linear UCB","Kernel TS","Kernel UCB","FN-UCB (N = 10)","FN-UCB (N = 5)","FN-UCB (N = 2)","FN-UCB (N = 1)","Neural TS","Neural UCB"], "range": ["#9467bd","#7f7f7f","#ff7f0e","#8c564b","#bf00bf","#bfbf00","#00bfbf","#008000","#ff0000","#0000ff"]}, "legend": null},
    "shape": {"field": "s", "type": "nominal", "scale": {"domain": ["Linear TS","Linear UCB","Kernel TS","Kernel UCB","FN-UCB (N = 10)","FN-UCB (N = 5)","FN-UCB (N = 2)","FN-UCB (N = 1)","Neural TS","Neural UCB"], "range": ["circle","circle","circle","circle","M-1.1,0.7L1.1,0.7L0,-1.2Z","M-0.9,-0.9L0.9,0.9M-0.9,0.9L0.9,-0.9","circle","M-0.95,-0.95L0.95,-0.95L0.95,0.95L-0.95,0.95Z","M0,-1.25L1.25,0L0,1.25L-1.25,0Z","M-1.1,-0.7L1.1,-0.7L0,1.2Z"]}, "legend": null}
   }},
  {"transform": [{"filter": "false"}],
   "mark": {"type": "point", "filled": true, "opacity": 1},
   "encoding": {
    "x": {"field": "x", "type": "quantitative", "scale": {"domain": [0, 5000], "nice": false}, "axis": {"orient": "bottom", "domain": false, "ticks": false, "labels": false, "grid": false, "title": "(b)", "titleFont": "Liberation Serif", "titleFontSize": 24, "titleX": 116.5, "titleY": 67.7, "titleAlign": "center", "titleBaseline": "alphabetic", "titleAngle": 0}},
    "y": {"field": "y", "type": "quantitative", "scale": {"domain": [0, 250], "nice": false}, "axis": {"values": [0,50,100,150,200,250]}, "title": "Cumulative Regret"},
    "color": {"field": "s", "type": "nominal", "scale": {"domain": ["Neural UCB","Neural TS","FN-UCB (N = 1)","FN-UCB (N = 2)","FN-UCB (N = 5)","FN-UCB (N = 10)","Kernel UCB","Kernel TS","Linear UCB","Linear TS"], "range": ["#0000ff","#ff0000","#008000","#00bfbf","#bfbf00","#bf00bf","#8c564b","#ff7f0e","#7f7f7f","#9467bd"]}, "legend": {"orient": "none", "legendX": 196, "legendY": 76.5, "rowPadding": 0.9, "title": null}},
    "stroke": {"field": "s", "type": "nominal", "scale": {"domain": ["Neural UCB","Neural TS","FN-UCB (N = 1)","FN-UCB (N = 2)","FN-UCB (N = 5)","FN-UCB (N = 10)","Kernel UCB","Kernel TS","Linear UCB","Linear TS"], "range": ["#0000ff","#ff0000","#008000","#00bfbf","#bfbf00","#bf00bf","#8c564b","#ff7f0e","#7f7f7f","#9467bd"]}, "legend": {"orient": "none", "legendX": 196, "legendY": 76.5, "rowPadding": 0.9, "title": null}},
    "shape": {"field": "s", "type": "nominal", "scale": {"domain": ["Neural UCB","Neural TS","FN-UCB (N = 1)","FN-UCB (N = 2)","FN-UCB (N = 5)","FN-UCB (N = 10)","Kernel UCB","Kernel TS","Linear UCB","Linear TS"], "range": ["M-2.35,0L-0.71,0L-1.2,-0.75L1.2,-0.75L0.71,0L2.35,0L0.71,0L0,1.1L-0.71,0Z","M-2.35,0L-1.3,0L0,-1.1L1.3,0L2.35,0L1.3,0L0,1.1L-1.3,0Z","M-2.35,0L-1,0L-1,-1L1,-1L1,0L2.35,0L1,0L1,1L-1,1L-1,0Z","M-2.35,0L-1.08,0A1.08,1.08,0,0,1,1.08,0L2.35,0L1.08,0A1.08,1.08,0,0,1,-1.08,0Z","M-2.35,0L0,0L-0.95,-0.95L0.95,0.95L0,0L0.95,-0.95L-0.95,0.95L0,0L2.35,0","M-2.35,0L-0.71,0L-1.2,0.75L1.2,0.75L0.71,0L2.35,0L0.71,0L0,-1.1L-0.71,0Z","M-2.35,0L2.35,0","M-2.35,0L2.35,0","M-2.35,0L2.35,0","M-2.35,0L2.35,0"]}, "legend": {"orient": "none", "legendX": 196, "legendY": 76.5, "rowPadding": 0.9, "title": null}},
    "strokeDash": {"field": "s", "type": "nominal", "scale": {"domain": ["Neural UCB","Neural TS","FN-UCB (N = 1)","FN-UCB (N = 2)","FN-UCB (N = 5)","FN-UCB (N = 10)","Kernel UCB","Kernel TS","Linear UCB","Linear TS"], "range": [[1,0],[1,0],[1,0],[1,0],[1,0],[1,0],[1,0],[5,2],[1.2,1.8],[7,2.5,1.2,2.5]]}, "legend": {"orient": "none", "legendX": 196, "legendY": 76.5, "rowPadding": 0.9, "title": null}}
   }}
 ]}
], "spacing": 64.3, "bounds": "flush", "resolve": {"scale": {"color": "independent", "fill": "independent", "stroke": "independent", "strokeDash": "independent", "shape": "independent"}}},
{"hconcat": [
{"width": 319, "height": 232.6, "data": {"name": "c"},
 "resolve": {"scale": {"color": "independent", "fill": "independent", "stroke": "independent", "strokeDash": "independent", "shape": "independent"}, "axis": {"x": "independent"}},
 "layer": [
  {"mark": {"type": "area", "opacity": 0.2, "clip": true},
   "encoding": {
    "x": {"field": "x", "type": "quantitative", "scale": {"domain": [0, 5000], "nice": false}, "axis": {"values": [0,1000,2000,3000,4000,5000], "orient": "bottom"}, "title": "Iterations"},
    "y": {"field": "l", "type": "quantitative", "stack": null, "scale": {"domain": [0, 400], "nice": false}, "axis": {"values": [0,100,200,300,400]}, "title": "Cumulative Regret"},
    "y2": {"field": "h"},
    "fill": {"field": "s", "type": "nominal", "scale": {"domain": ["Linear TS","Linear UCB","Kernel TS","Kernel UCB","FN-UCB (N = 5, D = 0.03)","FN-UCB (N = 5)","FN-UCB (N = 2)","FN-UCB (N = 1)","Neural TS","Neural UCB"], "range": ["#9467bd","#7f7f7f","#ff7f0e","#8c564b","#bf00bf","#bfbf00","#00bfbf","#008000","#ff0000","#0000ff"]}, "legend": null}
   }},
  {"mark": {"type": "line", "strokeWidth": 1.3, "clip": true},
   "encoding": {
    "x": {"field": "x", "type": "quantitative", "scale": {"domain": [0, 5000], "nice": false}, "axis": null},
    "y": {"field": "y", "type": "quantitative", "scale": {"domain": [0, 400], "nice": false}, "axis": {"values": [0,100,200,300,400]}, "title": "Cumulative Regret"},
    "stroke": {"field": "s", "type": "nominal", "scale": {"domain": ["Linear TS","Linear UCB","Kernel TS","Kernel UCB","FN-UCB (N = 5, D = 0.03)","FN-UCB (N = 5)","FN-UCB (N = 2)","FN-UCB (N = 1)","Neural TS","Neural UCB"], "range": ["#9467bd","#7f7f7f","#ff7f0e","#8c564b","#bf00bf","#bfbf00","#00bfbf","#008000","#ff0000","#0000ff"]}, "legend": null},
    "strokeDash": {"field": "s", "type": "nominal", "scale": {"domain": ["Linear TS","Linear UCB","Kernel TS","Kernel UCB","FN-UCB (N = 5, D = 0.03)","FN-UCB (N = 5)","FN-UCB (N = 2)","FN-UCB (N = 1)","Neural TS","Neural UCB"], "range": [[7,2.5,1.2,2.5],[1.2,1.8],[5,2],[1,0],[1,0],[1,0],[1,0],[1,0],[1,0],[1,0]]}, "legend": null}
   }},
  {"transform": [{"filter": "datum.x > 0 && datum.x % 500 == 0 && indexof(['Kernel UCB','Kernel TS','Linear UCB','Linear TS'], datum.s) < 0"}],
   "mark": {"type": "point", "filled": true, "size": 144, "opacity": 1, "strokeWidth": 1.2, "clip": true},
   "encoding": {
    "x": {"field": "x", "type": "quantitative", "scale": {"domain": [0, 5000], "nice": false}, "axis": {"orient": "bottom", "domain": false, "ticks": false, "labels": false, "grid": false, "title": "shuttle", "titleFont": "Liberation Mono", "titleFontSize": 24, "titleX": 150, "titleY": 67.7, "titleAlign": "center", "titleBaseline": "alphabetic", "titleAngle": 0}},
    "y": {"field": "y", "type": "quantitative", "scale": {"domain": [0, 400], "nice": false}, "axis": {"values": [0,100,200,300,400]}, "title": "Cumulative Regret"},
    "color": {"field": "s", "type": "nominal", "scale": {"domain": ["Linear TS","Linear UCB","Kernel TS","Kernel UCB","FN-UCB (N = 5, D = 0.03)","FN-UCB (N = 5)","FN-UCB (N = 2)","FN-UCB (N = 1)","Neural TS","Neural UCB"], "range": ["#9467bd","#7f7f7f","#ff7f0e","#8c564b","#bf00bf","#bfbf00","#00bfbf","#008000","#ff0000","#0000ff"]}, "legend": null},
    "stroke": {"field": "s", "type": "nominal", "scale": {"domain": ["Linear TS","Linear UCB","Kernel TS","Kernel UCB","FN-UCB (N = 5, D = 0.03)","FN-UCB (N = 5)","FN-UCB (N = 2)","FN-UCB (N = 1)","Neural TS","Neural UCB"], "range": ["#9467bd","#7f7f7f","#ff7f0e","#8c564b","#bf00bf","#bfbf00","#00bfbf","#008000","#ff0000","#0000ff"]}, "legend": null},
    "shape": {"field": "s", "type": "nominal", "scale": {"domain": ["Linear TS","Linear UCB","Kernel TS","Kernel UCB","FN-UCB (N = 5, D = 0.03)","FN-UCB (N = 5)","FN-UCB (N = 2)","FN-UCB (N = 1)","Neural TS","Neural UCB"], "range": ["circle","circle","circle","circle","M-1.1,0.7L1.1,0.7L0,-1.2Z","M-0.9,-0.9L0.9,0.9M-0.9,0.9L0.9,-0.9","circle","M-0.95,-0.95L0.95,-0.95L0.95,0.95L-0.95,0.95Z","M0,-1.25L1.25,0L0,1.25L-1.25,0Z","M-1.1,-0.7L1.1,-0.7L0,1.2Z"]}, "legend": null}
   }},
  {"transform": [{"filter": "false"}],
   "mark": {"type": "point", "filled": true, "opacity": 1},
   "encoding": {
    "x": {"field": "x", "type": "quantitative", "scale": {"domain": [0, 5000], "nice": false}, "axis": {"orient": "bottom", "domain": false, "ticks": false, "labels": false, "grid": false, "title": "(c)", "titleFont": "Liberation Serif", "titleFontSize": 24, "titleX": 80.3, "titleY": 67.7, "titleAlign": "center", "titleBaseline": "alphabetic", "titleAngle": 0}},
    "y": {"field": "y", "type": "quantitative", "scale": {"domain": [0, 400], "nice": false}, "axis": {"values": [0,100,200,300,400]}, "title": "Cumulative Regret"},
    "color": {"field": "s", "type": "nominal", "scale": {"domain": ["Neural UCB","Neural TS","FN-UCB (N = 1)","FN-UCB (N = 2)","FN-UCB (N = 5)","FN-UCB (N = 5, D = 0.03)","Kernel UCB","Kernel TS","Linear UCB","Linear TS"], "range": ["#0000ff","#ff0000","#008000","#00bfbf","#bfbf00","#bf00bf","#8c564b","#ff7f0e","#7f7f7f","#9467bd"]}, "legend": {"orient": "none", "legendX": 155, "legendY": 77.7, "rowPadding": 0.76, "title": null}},
    "stroke": {"field": "s", "type": "nominal", "scale": {"domain": ["Neural UCB","Neural TS","FN-UCB (N = 1)","FN-UCB (N = 2)","FN-UCB (N = 5)","FN-UCB (N = 5, D = 0.03)","Kernel UCB","Kernel TS","Linear UCB","Linear TS"], "range": ["#0000ff","#ff0000","#008000","#00bfbf","#bfbf00","#bf00bf","#8c564b","#ff7f0e","#7f7f7f","#9467bd"]}, "legend": {"orient": "none", "legendX": 155, "legendY": 77.7, "rowPadding": 0.76, "title": null}},
    "shape": {"field": "s", "type": "nominal", "scale": {"domain": ["Neural UCB","Neural TS","FN-UCB (N = 1)","FN-UCB (N = 2)","FN-UCB (N = 5)","FN-UCB (N = 5, D = 0.03)","Kernel UCB","Kernel TS","Linear UCB","Linear TS"], "range": ["M-2.35,0L-0.71,0L-1.2,-0.75L1.2,-0.75L0.71,0L2.35,0L0.71,0L0,1.1L-0.71,0Z","M-2.35,0L-1.3,0L0,-1.1L1.3,0L2.35,0L1.3,0L0,1.1L-1.3,0Z","M-2.35,0L-1,0L-1,-1L1,-1L1,0L2.35,0L1,0L1,1L-1,1L-1,0Z","M-2.35,0L-1.08,0A1.08,1.08,0,0,1,1.08,0L2.35,0L1.08,0A1.08,1.08,0,0,1,-1.08,0Z","M-2.35,0L0,0L-0.95,-0.95L0.95,0.95L0,0L0.95,-0.95L-0.95,0.95L0,0L2.35,0","M-2.35,0L-0.71,0L-1.2,0.75L1.2,0.75L0.71,0L2.35,0L0.71,0L0,-1.1L-0.71,0Z","M-2.35,0L2.35,0","M-2.35,0L2.35,0","M-2.35,0L2.35,0","M-2.35,0L2.35,0"]}, "legend": {"orient": "none", "legendX": 155, "legendY": 77.7, "rowPadding": 0.76, "title": null}},
    "strokeDash": {"field": "s", "type": "nominal", "scale": {"domain": ["Neural UCB","Neural TS","FN-UCB (N = 1)","FN-UCB (N = 2)","FN-UCB (N = 5)","FN-UCB (N = 5, D = 0.03)","Kernel UCB","Kernel TS","Linear UCB","Linear TS"], "range": [[1,0],[1,0],[1,0],[1,0],[1,0],[1,0],[1,0],[5,2],[1.2,1.8],[7,2.5,1.2,2.5]]}, "legend": {"orient": "none", "legendX": 155, "legendY": 77.7, "rowPadding": 0.76, "title": null}}
   }}
 ]},
{"width": 310.6, "height": 227.4, "data": {"name": "d"},
 "resolve": {"scale": {"color": "independent", "fill": "independent", "stroke": "independent", "strokeDash": "independent", "shape": "independent"}, "axis": {"x": "independent"}},
 "layer": [
  {"mark": {"type": "area", "opacity": 0.2, "clip": true},
   "encoding": {
    "x": {"field": "x", "type": "quantitative", "scale": {"domain": [0, 5000], "nice": false}, "axis": {"values": [0,1000,2000,3000,4000,5000], "orient": "bottom"}, "title": "Iterations"},
    "y": {"field": "l", "type": "quantitative", "stack": null, "scale": {"domain": [0, 1100], "nice": false}, "axis": {"values": [0,200,400,600,800,1000]}, "title": "Cumulative Regret"},
    "y2": {"field": "h"},
    "fill": {"field": "s", "type": "nominal", "scale": {"domain": ["Linear TS","Linear UCB","Kernel TS","Kernel UCB","FN-UCB (N = 5, D = 0.01)","FN-UCB (N = 5)","FN-UCB (N = 2)","FN-UCB (N = 1)","Neural TS","Neural UCB"], "range": ["#9467bd","#7f7f7f","#ff7f0e","#8c564b","#bf00bf","#bfbf00","#00bfbf","#008000","#ff0000","#0000ff"]}, "legend": null}
   }},
  {"mark": {"type": "line", "strokeWidth": 1.3, "clip": true},
   "encoding": {
    "x": {"field": "x", "type": "quantitative", "scale": {"domain": [0, 5000], "nice": false}, "axis": null},
    "y": {"field": "y", "type": "quantitative", "scale": {"domain": [0, 1100], "nice": false}, "axis": {"values": [0,200,400,600,800,1000]}, "title": "Cumulative Regret"},
    "stroke": {"field": "s", "type": "nominal", "scale": {"domain": ["Linear TS","Linear UCB","Kernel TS","Kernel UCB","FN-UCB (N = 5, D = 0.01)","FN-UCB (N = 5)","FN-UCB (N = 2)","FN-UCB (N = 1)","Neural TS","Neural UCB"], "range": ["#9467bd","#7f7f7f","#ff7f0e","#8c564b","#bf00bf","#bfbf00","#00bfbf","#008000","#ff0000","#0000ff"]}, "legend": null},
    "strokeDash": {"field": "s", "type": "nominal", "scale": {"domain": ["Linear TS","Linear UCB","Kernel TS","Kernel UCB","FN-UCB (N = 5, D = 0.01)","FN-UCB (N = 5)","FN-UCB (N = 2)","FN-UCB (N = 1)","Neural TS","Neural UCB"], "range": [[7,2.5,1.2,2.5],[1.2,1.8],[5,2],[1,0],[1,0],[1,0],[1,0],[1,0],[1,0],[1,0]]}, "legend": null}
   }},
  {"transform": [{"filter": "datum.x > 0 && datum.x % 500 == 0 && indexof(['Kernel UCB','Kernel TS','Linear UCB','Linear TS'], datum.s) < 0"}],
   "mark": {"type": "point", "filled": true, "size": 144, "opacity": 1, "strokeWidth": 1.2, "clip": true},
   "encoding": {
    "x": {"field": "x", "type": "quantitative", "scale": {"domain": [0, 5000], "nice": false}, "axis": {"orient": "bottom", "domain": false, "ticks": false, "labels": false, "grid": false, "title": "magic telescope", "titleFont": "Liberation Mono", "titleFontSize": 24, "titleX": 179.1, "titleY": 70.3, "titleAlign": "center", "titleBaseline": "alphabetic", "titleAngle": 0}},
    "y": {"field": "y", "type": "quantitative", "scale": {"domain": [0, 1100], "nice": false}, "axis": {"values": [0,200,400,600,800,1000]}, "title": "Cumulative Regret"},
    "color": {"field": "s", "type": "nominal", "scale": {"domain": ["Linear TS","Linear UCB","Kernel TS","Kernel UCB","FN-UCB (N = 5, D = 0.01)","FN-UCB (N = 5)","FN-UCB (N = 2)","FN-UCB (N = 1)","Neural TS","Neural UCB"], "range": ["#9467bd","#7f7f7f","#ff7f0e","#8c564b","#bf00bf","#bfbf00","#00bfbf","#008000","#ff0000","#0000ff"]}, "legend": null},
    "stroke": {"field": "s", "type": "nominal", "scale": {"domain": ["Linear TS","Linear UCB","Kernel TS","Kernel UCB","FN-UCB (N = 5, D = 0.01)","FN-UCB (N = 5)","FN-UCB (N = 2)","FN-UCB (N = 1)","Neural TS","Neural UCB"], "range": ["#9467bd","#7f7f7f","#ff7f0e","#8c564b","#bf00bf","#bfbf00","#00bfbf","#008000","#ff0000","#0000ff"]}, "legend": null},
    "shape": {"field": "s", "type": "nominal", "scale": {"domain": ["Linear TS","Linear UCB","Kernel TS","Kernel UCB","FN-UCB (N = 5, D = 0.01)","FN-UCB (N = 5)","FN-UCB (N = 2)","FN-UCB (N = 1)","Neural TS","Neural UCB"], "range": ["circle","circle","circle","circle","M-1.1,0.7L1.1,0.7L0,-1.2Z","M-0.9,-0.9L0.9,0.9M-0.9,0.9L0.9,-0.9","circle","M-0.95,-0.95L0.95,-0.95L0.95,0.95L-0.95,0.95Z","M0,-1.25L1.25,0L0,1.25L-1.25,0Z","M-1.1,-0.7L1.1,-0.7L0,1.2Z"]}, "legend": null}
   }},
  {"transform": [{"filter": "false"}],
   "mark": {"type": "point", "filled": true, "opacity": 1},
   "encoding": {
    "x": {"field": "x", "type": "quantitative", "scale": {"domain": [0, 5000], "nice": false}, "axis": {"orient": "bottom", "domain": false, "ticks": false, "labels": false, "grid": false, "title": "(d)", "titleFont": "Liberation Serif", "titleFontSize": 24, "titleX": 51.8, "titleY": 70.3, "titleAlign": "center", "titleBaseline": "alphabetic", "titleAngle": 0}},
    "y": {"field": "y", "type": "quantitative", "scale": {"domain": [0, 1100], "nice": false}, "axis": {"values": [0,200,400,600,800,1000]}, "title": "Cumulative Regret"},
    "color": {"field": "s", "type": "nominal", "scale": {"domain": ["Neural UCB","Neural TS","FN-UCB (N = 1)","FN-UCB (N = 2)","FN-UCB (N = 5)","FN-UCB (N = 5, D = 0.01)","Kernel UCB","Kernel TS","Linear UCB","Linear TS"], "range": ["#0000ff","#ff0000","#008000","#00bfbf","#bfbf00","#bf00bf","#8c564b","#ff7f0e","#7f7f7f","#9467bd"]}, "legend": {"orient": "none", "legendX": 5, "legendY": 4.1, "rowPadding": 0.47, "title": null}},
    "stroke": {"field": "s", "type": "nominal", "scale": {"domain": ["Neural UCB","Neural TS","FN-UCB (N = 1)","FN-UCB (N = 2)","FN-UCB (N = 5)","FN-UCB (N = 5, D = 0.01)","Kernel UCB","Kernel TS","Linear UCB","Linear TS"], "range": ["#0000ff","#ff0000","#008000","#00bfbf","#bfbf00","#bf00bf","#8c564b","#ff7f0e","#7f7f7f","#9467bd"]}, "legend": {"orient": "none", "legendX": 5, "legendY": 4.1, "rowPadding": 0.47, "title": null}},
    "shape": {"field": "s", "type": "nominal", "scale": {"domain": ["Neural UCB","Neural TS","FN-UCB (N = 1)","FN-UCB (N = 2)","FN-UCB (N = 5)","FN-UCB (N = 5, D = 0.01)","Kernel UCB","Kernel TS","Linear UCB","Linear TS"], "range": ["M-2.35,0L-0.71,0L-1.2,-0.75L1.2,-0.75L0.71,0L2.35,0L0.71,0L0,1.1L-0.71,0Z","M-2.35,0L-1.3,0L0,-1.1L1.3,0L2.35,0L1.3,0L0,1.1L-1.3,0Z","M-2.35,0L-1,0L-1,-1L1,-1L1,0L2.35,0L1,0L1,1L-1,1L-1,0Z","M-2.35,0L-1.08,0A1.08,1.08,0,0,1,1.08,0L2.35,0L1.08,0A1.08,1.08,0,0,1,-1.08,0Z","M-2.35,0L0,0L-0.95,-0.95L0.95,0.95L0,0L0.95,-0.95L-0.95,0.95L0,0L2.35,0","M-2.35,0L-0.71,0L-1.2,0.75L1.2,0.75L0.71,0L2.35,0L0.71,0L0,-1.1L-0.71,0Z","M-2.35,0L2.35,0","M-2.35,0L2.35,0","M-2.35,0L2.35,0","M-2.35,0L2.35,0"]}, "legend": {"orient": "none", "legendX": 5, "legendY": 4.1, "rowPadding": 0.47, "title": null}},
    "strokeDash": {"field": "s", "type": "nominal", "scale": {"domain": ["Neural UCB","Neural TS","FN-UCB (N = 1)","FN-UCB (N = 2)","FN-UCB (N = 5)","FN-UCB (N = 5, D = 0.01)","Kernel UCB","Kernel TS","Linear UCB","Linear TS"], "range": [[1,0],[1,0],[1,0],[1,0],[1,0],[1,0],[1,0],[5,2],[1.2,1.8],[7,2.5,1.2,2.5]]}, "legend": {"orient": "none", "legendX": 5, "legendY": 4.1, "rowPadding": 0.47, "title": null}}
   }}
 ]}
], "spacing": 72.7, "bounds": "flush", "center": true, "resolve": {"scale": {"color": "independent", "fill": "independent", "stroke": "independent", "strokeDash": "independent", "shape": "independent"}}}
]
}
